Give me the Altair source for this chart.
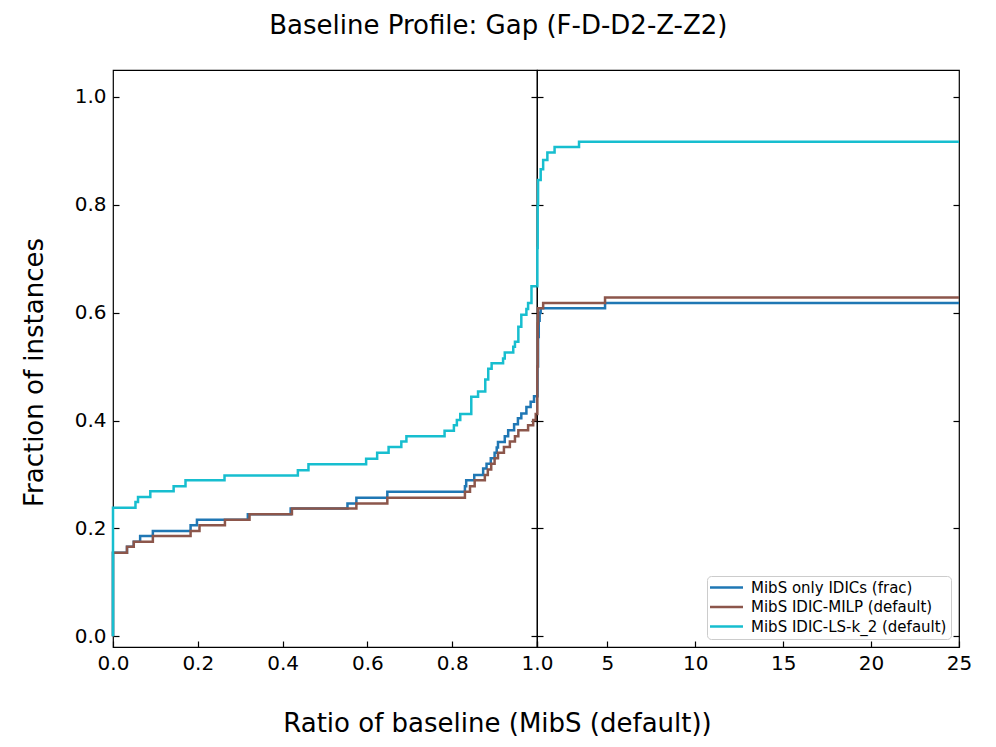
import altair as alt
import pandas as pd

SERIES = ["MibS only IDICs (frac)", "MibS IDIC-MILP (default)", "MibS IDIC-LS-k_2 (default)"]
COLORS = ["#1f77b4", "#8c564b", "#17becf"]

# ---- left panel: ratio in [0, 1] ----
blue_left_x = [0, 0, 0.033, 0.049, 0.064, 0.094, 0.183, 0.198, 0.318, 0.419, 0.553, 0.574, 0.647, 0.830, 0.833,
               0.852, 0.873, 0.881, 0.891, 0.900, 0.905, 0.908, 0.924, 0.932, 0.946, 0.955, 0.963, 0.975, 0.985,
               0.993, 1.0]
blue_left_y = [0, 0.155, 0.166, 0.175, 0.186, 0.195, 0.206, 0.216, 0.226, 0.237, 0.246, 0.257, 0.268, 0.278, 0.289,
               0.299, 0.311, 0.320, 0.330, 0.340, 0.350, 0.360, 0.371, 0.382, 0.393, 0.404, 0.413, 0.425, 0.435,
               0.445, 0.445]

brown_left_x = [0, 0, 0.033, 0.049, 0.094, 0.183, 0.204, 0.264, 0.322, 0.422, 0.574, 0.647, 0.830, 0.842, 0.853,
                0.877, 0.884, 0.892, 0.900, 0.908, 0.922, 0.936, 0.948, 0.956, 0.979, 0.991, 0.997, 1.0]
brown_left_y = [0, 0.155, 0.166, 0.175, 0.186, 0.195, 0.206, 0.216, 0.226, 0.237, 0.246, 0.257, 0.268, 0.278, 0.289,
                0.299, 0.309, 0.320, 0.330, 0.340, 0.351, 0.361, 0.371, 0.382, 0.391, 0.401, 0.412, 0.412]

cyan_left_x = [0, 0, 0.053, 0.059, 0.088, 0.143, 0.171, 0.263, 0.436, 0.461, 0.597, 0.623, 0.650, 0.680, 0.692,
               0.782, 0.804, 0.811, 0.819, 0.845, 0.861, 0.878, 0.885, 0.893, 0.920, 0.924, 0.944, 0.948, 0.956,
               0.963, 0.975, 0.979, 0.987, 1.0]
cyan_left_y = [0, 0.238, 0.249, 0.258, 0.269, 0.278, 0.289, 0.298, 0.308, 0.319, 0.329, 0.340, 0.351, 0.361, 0.371,
               0.381, 0.391, 0.401, 0.412, 0.444, 0.454, 0.476, 0.496, 0.506, 0.515, 0.526, 0.537, 0.546, 0.574,
               0.596, 0.607, 0.618, 0.649, 0.649]

# ---- right panel: ratio in [1, 25] ----
blue_right_x = [1.0, 1.03, 1.06, 1.10, 1.15, 1.21, 4.87, 25]
blue_right_y = [0.445, 0.50, 0.555, 0.585, 0.600, 0.608, 0.618, 0.618]

brown_right_x = [1.0, 1.02, 1.04, 1.06, 1.35, 4.87, 25]
brown_right_y = [0.412, 0.50, 0.58, 0.608, 0.618, 0.628, 0.628]

cyan_right_x = [1.0, 1.02, 1.04, 1.06, 1.21, 1.35, 1.59, 2.0, 3.39, 25]
cyan_right_y = [0.649, 0.72, 0.80, 0.846, 0.866, 0.883, 0.897, 0.907, 0.917, 0.917]

Y_TICKS = [0.0, 0.2, 0.4, 0.6, 0.8, 1.0]
LEFT_X_TICKS = [0.0, 0.2, 0.4, 0.6, 0.8, 1.0]
RIGHT_X_TICKS = [1, 5, 10, 15, 20, 25]


def make_df(parts):
    rows = []
    for name, xs, ys in parts:
        for i, (a, b) in enumerate(zip(xs, ys)):
            rows.append({"series": name, "x": a, "y": b, "order": i})
    return pd.DataFrame(rows)


left_df = make_df([(SERIES[0], blue_left_x, blue_left_y),
                   (SERIES[1], brown_left_x, brown_left_y),
                   (SERIES[2], cyan_left_x, cyan_left_y)])
right_df = make_df([(SERIES[0], blue_right_x, blue_right_y),
                    (SERIES[1], brown_right_x, brown_right_y),
                    (SERIES[2], cyan_right_x, cyan_right_y)])

FONT = "DejaVu Sans"
TICK = {"expr": "-6"}
yscale = alt.Scale(domain=[-0.02, 1.05], nice=False, zero=False)
color_scale = alt.Scale(domain=SERIES, range=COLORS)
W_LEFT, W_RIGHT, H = 424, 422, 577

# ---------- left panel ----------
left_lines = alt.Chart(left_df).mark_line(interpolate="step-after", strokeWidth=2.5).encode(
    x=alt.X("x:Q", scale=alt.Scale(domain=[0, 1], nice=False, zero=False),
            axis=alt.Axis(orient="bottom", values=LEFT_X_TICKS, format=".1f", labelFlush=False, tickSize=TICK,
                          labelPadding=12, title="Ratio of baseline (MibS (default))",
                          titleX=384, titleY=76, titleAlign="center", titleBaseline="middle")),
    y=alt.Y("y:Q", scale=yscale,
            axis=alt.Axis(orient="left", values=Y_TICKS, format=".1f", tickSize=TICK, labelPadding=13,
                          title="Fraction of instances", titleX=-79, titleY=302, titleAngle=-90,
                          titleAlign="center", titleBaseline="middle")),
    color=alt.Color("series:N", scale=color_scale, legend=None),
    order="order:Q",
)
left_ticks = alt.Chart(left_df).mark_line(opacity=0).encode(
    x=alt.X("x:Q", scale=alt.Scale(domain=[0, 1], nice=False, zero=False), axis=None),
    y=alt.Y("y:Q", scale=yscale,
            axis=alt.Axis(orient="right", values=Y_TICKS, labels=False, tickSize=TICK, title=None,
                          minExtent=0)),
    detail="series:N",
    order="order:Q",
)
left = alt.layer(left_lines, left_ticks).resolve_axis(x="independent", y="independent").properties(
    width=W_LEFT, height=H)

# ---------- right panel ----------
right_lines = alt.Chart(right_df).mark_line(interpolate="step-after", strokeWidth=2.5).encode(
    x=alt.X("x:Q", scale=alt.Scale(domain=[1, 25], nice=False, zero=False),
            axis=alt.Axis(orient="bottom", values=RIGHT_X_TICKS,
                          labelExpr="datum.value == 1 ? '' : datum.label",
                          labelFlush=False, tickSize=TICK, labelPadding=12, title=None)),
    y=alt.Y("y:Q", scale=yscale,
            axis=alt.Axis(orient="left", values=Y_TICKS, labels=False, tickSize=TICK, title=None,
                          minExtent=0)),
    color=alt.Color("series:N", scale=color_scale,
                    legend=alt.Legend(orient="bottom-right", title=None, symbolType="M-3,0H3",
                                      symbolStrokeWidth=2.5, symbolSize=121, symbolOffset=8,
                                      labelFontSize=15, labelFont=FONT, labelColor="black",
                                      strokeColor="#cccccc", fillColor="white", padding=4, rowPadding=3.5,
                                      offset=8, cornerRadius=4, labelOffset=17, labelLimit=400)),
    order="order:Q",
)
right_ticks = alt.Chart(right_df).mark_line(opacity=0).encode(
    x=alt.X("x:Q", scale=alt.Scale(domain=[1, 25], nice=False, zero=False), axis=None),
    y=alt.Y("y:Q", scale=yscale,
            axis=alt.Axis(orient="right", values=Y_TICKS, labels=False, tickSize=TICK, title=None,
                          minExtent=0)),
    detail="series:N",
    order="order:Q",
)
right = alt.layer(right_lines, right_ticks).resolve_axis(x="independent", y="independent").properties(
    width=W_RIGHT, height=H)

chart = alt.hconcat(left, right, spacing=0, bounds="flush").resolve_legend(color="independent").properties(
    title=alt.TitleParams("Baseline Profile: Gap (F-D-D2-Z-Z2)", fontSize=26, font=FONT, fontWeight="normal",
                          anchor="middle", offset=30, color="black", dx=2),
    padding={"left": 12, "top": 5, "right": 10, "bottom": 6},
).configure_view(stroke="black", strokeWidth=1.2).configure_axis(
    labelFont=FONT, labelFontSize=20, labelColor="black", tickColor="black", tickWidth=1.2,
    grid=False, domain=False, titleFont=FONT, titleFontSize=26, titleFontWeight="normal", titleColor="black",
)

chart.save("out.html", embed_options={"renderer": "svg", "actions": False})
